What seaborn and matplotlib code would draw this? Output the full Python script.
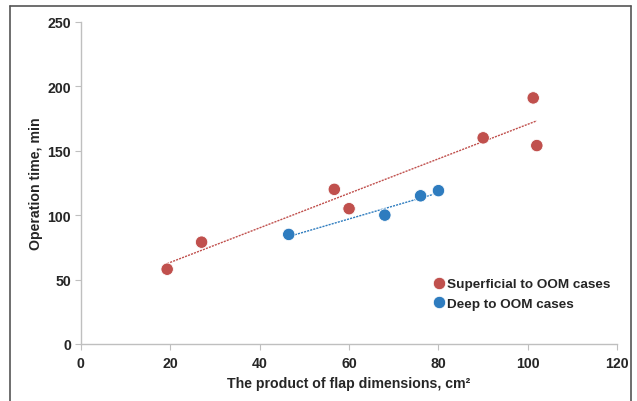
import numpy as np
import pandas as pd
import matplotlib
matplotlib.use("Agg")
import matplotlib.pyplot as plt
import seaborn as sns

# flap size (cm2) vs operation time (min)
sup_x = [19.3, 27, 56.7, 60, 90, 101.2, 102]
sup_y = [58, 79, 120, 105, 160, 191, 154]
deep_x = [46.5, 68, 76, 80]
deep_y = [85, 100, 115, 119]
groups = ["Superficial to OOM cases", "Deep to OOM cases"]
colors = ["#C0504D", "#2E7CBF"]

sns.set_style("white")
plt.rcParams['font.family'] = ['Liberation Sans', 'DejaVu Sans']
plt.rcParams['font.weight'] = 'bold'

df = pd.DataFrame({
    "x": sup_x + deep_x,
    "y": sup_y + deep_y,
    "group": [groups[0]] * len(sup_x) + [groups[1]] * len(deep_x),
})

fig = plt.figure(figsize=(6.37, 4.02), dpi=100)
ax = fig.add_axes([0.127, 0.142, 0.842, 0.801])

# linear trend lines over each group's range
for gx, gy, c in [(sup_x, sup_y, colors[0]), (deep_x, deep_y, colors[1])]:
    k, b = np.polyfit(gx, gy, 1)
    xs = np.array([min(gx), max(gx)])
    ax.plot(xs, k * xs + b, color=c, lw=1.0, ls=(0, (1.5, 0.8)), zorder=1)

sns.scatterplot(data=df, x="x", y="y", hue="group", palette=colors,
                s=80, edgecolor="white", linewidth=0.6, ax=ax, zorder=3)

ax.set_xlim(0, 120)
ax.set_ylim(0, 250)
ax.set_xticks(range(0, 121, 20))
ax.set_yticks(range(0, 251, 50))
ax.tick_params(axis="both", labelsize=10.2, length=4, width=0.8,
               color="#bfbfbf", direction="out")
ax.tick_params(axis="x", bottom=True, pad=5)
ax.tick_params(axis="y", left=True, pad=3)
for lbl in ax.get_xticklabels() + ax.get_yticklabels():
    lbl.set_fontweight("bold")

for s in ["top", "right"]:
    ax.spines[s].set_visible(False)
for s in ["left", "bottom"]:
    ax.spines[s].set_color("#bfbfbf")
    ax.spines[s].set_linewidth(1.0)

ax.set_xlabel("The product of flap dimensions, cm\u00b2", fontsize=10.2,
              fontweight="bold", labelpad=4)
ax.set_ylabel("Operation time, min", fontsize=10.2, fontweight="bold",
              labelpad=3)

leg = ax.legend(loc="center left", bbox_to_anchor=(0.643, 0.155),
                frameon=False, fontsize=9.7, handletextpad=0.0,
                handlelength=1.2, labelspacing=0.55, borderaxespad=0)
for t in leg.get_texts():
    t.set_fontweight("bold")

# outer frame of the figure
fig.add_artist(plt.Line2D([0.016, 0.016], [0, 0.983], color="#555555", lw=1.2,
                          transform=fig.transFigure))
fig.add_artist(plt.Line2D([0.016, 0.991], [0.983, 0.983], color="#555555", lw=1.2,
                          transform=fig.transFigure))
fig.add_artist(plt.Line2D([0.991, 0.991], [0, 0.983], color="#555555", lw=1.2,
                          transform=fig.transFigure))

fig.savefig("out.png", dpi=100)
